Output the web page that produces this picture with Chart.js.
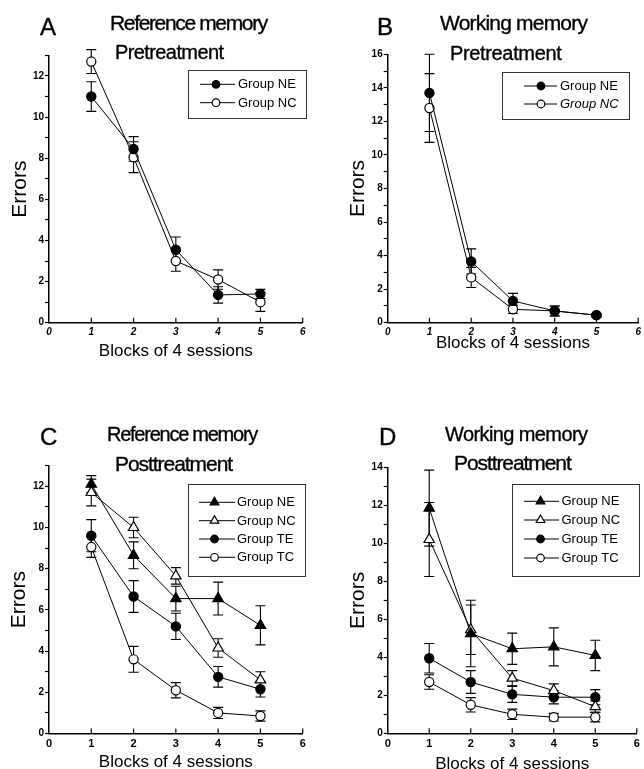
<!DOCTYPE html>
<html>
<head>
<meta charset="utf-8">
<script src="https://cdn.jsdelivr.net/npm/chart.js@4.4.1/dist/chart.umd.min.js"></script>
<style>
  html, body { margin: 0; padding: 0; background: #fff; overflow: hidden; }
  #page { position: relative; width: 644px; height: 769px; overflow: hidden; background: #fff; }
  canvas { position: absolute; }
  .t { position: absolute; font-family: 'Liberation Sans', Arial, sans-serif; line-height: 1; white-space: nowrap; color: #000; -webkit-text-stroke: 0.35px #000; }
</style>
</head>
<body>
<div id="page">
  <canvas id="chartA" width="322" height="384" style="left:0;top:0"></canvas>
  <canvas id="chartB" width="322" height="384" style="left:322px;top:0"></canvas>
  <canvas id="chartC" width="322" height="400" style="left:0;top:384px"></canvas>
  <canvas id="chartD" width="322" height="400" style="left:322px;top:384px"></canvas>

  <div class="t" style="left:40px;top:14.7px;font-size:24px">A</div>
  <div class="t" style="left:110px;top:12.2px;font-size:21px;letter-spacing:-1.35px">Reference memory</div>
  <div class="t" style="left:115px;top:42.4px;font-size:20px;letter-spacing:-0.6px">Pretreatment</div>

  <div class="t" style="left:377px;top:14.7px;font-size:24px">B</div>
  <div class="t" style="left:440px;top:12.2px;font-size:21px;letter-spacing:-0.8px">Working memory</div>
  <div class="t" style="left:450px;top:43px;font-size:20px;letter-spacing:-0.35px">Pretreatment</div>

  <div class="t" style="left:40px;top:425.4px;font-size:24px">C</div>
  <div class="t" style="left:107px;top:424.4px;font-size:20px;letter-spacing:-1.25px">Reference memory</div>
  <div class="t" style="left:115px;top:452.9px;font-size:21px;letter-spacing:-1.05px">Posttreatment</div>

  <div class="t" style="left:379px;top:425.4px;font-size:24px">D</div>
  <div class="t" style="left:445px;top:424.4px;font-size:20px;letter-spacing:-0.6px">Working memory</div>
  <div class="t" style="left:454px;top:452.2px;font-size:21px;letter-spacing:-1.08px">Posttreatment</div>
</div>

<script>
const FONT = "'Liberation Sans', Arial, sans-serif";

// x positions: blocks of 4 sessions
const blocks = [1, 2, 3, 4, 5];
const xTicks = [0, 1, 2, 3, 4, 5, 6];

// A: reference memory, pretreatment (mean errors and SEM)
const refPreNE = [11.0, 8.45, 3.55, 1.35, 1.4];
const refPreNEse = [0.72, 0.6, 0.62, 0.4, 0.22];
const refPreNC = [12.7, 8.05, 3.0, 2.1, 1.0];
const refPreNCse = [0.58, 0.75, 0.5, 0.47, 0.45];

// B: working memory, pretreatment
const workPreNE = [13.7, 3.65, 1.3, 0.7, 0.45];
const workPreNEse = [2.3, 0.75, 0.45, 0.3, 0.1];
const workPreNC = [12.8, 2.7, 0.8, 0.7, 0.45];
const workPreNCse = [2.05, 0.6, 0.25, 0.3, 0.1];

// C: reference memory, posttreatment
const refPostNE = [12.1, 8.65, 6.55, 6.55, 5.25];
const refPostNEse = [0.42, 0.65, 0.6, 0.8, 0.95];
const refPostNC = [11.7, 10.0, 7.65, 4.15, 2.6];
const refPostNCse = [0.65, 0.5, 0.4, 0.45, 0.4];
const refPostTE = [9.6, 6.65, 5.2, 2.75, 2.15];
const refPostTEse = [0.78, 0.77, 0.64, 0.5, 0.38];
const refPostTC = [9.05, 3.6, 2.1, 1.0, 0.85];
const refPostTCse = [0.5, 0.63, 0.37, 0.27, 0.25];

// D: working memory, posttreatment
const workPostNE = [11.85, 5.25, 4.45, 4.55, 4.1];
const workPostNEse = [2.0, 1.75, 0.82, 1.0, 0.8];
const workPostNC = [10.2, 5.45, 2.9, 2.25, 1.4];
const workPostNCse = [1.95, 1.3, 0.4, 0.35, 0.3];
const workPostTE = [3.95, 2.7, 2.05, 1.9, 1.9];
const workPostTEse = [0.78, 0.6, 0.42, 0.35, 0.4];
const workPostTC = [2.7, 1.5, 1.0, 0.85, 0.85];
const workPostTCse = [0.38, 0.38, 0.27, 0.2, 0.25];

function series(label, values, errs, shape, filled) {
  return {
    label: label,
    data: blocks.map((b, i) => ({ x: b, y: values[i] })),
    errs: errs,
    borderColor: '#000',
    borderWidth: 1,
    pointStyle: shape,
    pointRadius: shape === 'triangle' ? 6 : 4.6,
    pointBackgroundColor: filled ? '#000' : '#fff',
    pointBorderColor: '#000',
    pointBorderWidth: 1.2,
    fill: false,
    tension: 0,
    clip: false
  };
}

// vertical SEM bars with caps (under the markers) + inward x ticks
const errorBars = {
  id: 'errorBars',
  beforeDatasetsDraw(chart) {
    const ctx = chart.ctx;
    const xs = chart.scales.x, ys = chart.scales.y;
    ctx.save();
    ctx.strokeStyle = '#000';
    ctx.lineWidth = 1.2;
    ctx.beginPath();
    xTicks.forEach(v => {
      const x = xs.getPixelForValue(v);
      if (v > 0) {
        ctx.moveTo(x, chart.chartArea.bottom);
        ctx.lineTo(x, chart.chartArea.bottom - 5);
      }
    });
    ctx.stroke();
    ctx.lineWidth = 1.1;
    chart.data.datasets.forEach((ds, di) => {
      const meta = chart.getDatasetMeta(di);
      meta.data.forEach((pt, i) => {
        const v = ds.data[i].y, e = ds.errs[i];
        const y1 = ys.getPixelForValue(v - e);
        const y2 = ys.getPixelForValue(v + e);
        ctx.beginPath();
        ctx.moveTo(pt.x, y1); ctx.lineTo(pt.x, y2);
        ctx.moveTo(pt.x - 5, y1); ctx.lineTo(pt.x + 5, y1);
        ctx.moveTo(pt.x - 5, y2); ctx.lineTo(pt.x + 5, y2);
        ctx.stroke();
      });
    });
    ctx.restore();
  }
};

function marker(ctx, shape, filled, x, y) {
  ctx.beginPath();
  if (shape === 'triangle') {
    const r = 5;
    ctx.moveTo(x, y - r);
    ctx.lineTo(x + r * 0.866, y + r * 0.5);
    ctx.lineTo(x - r * 0.866, y + r * 0.5);
    ctx.closePath();
  } else {
    ctx.arc(x, y, 3.8, 0, Math.PI * 2);
  }
  ctx.fillStyle = filled ? '#000' : '#fff';
  ctx.fill();
  ctx.lineWidth = 1.2;
  ctx.strokeStyle = '#000';
  ctx.stroke();
}

// boxed legend "—●— Group NE"
const boxLegend = {
  id: 'boxLegend',
  afterDatasetsDraw(chart, args, o) {
    const ctx = chart.ctx;
    ctx.save();
    ctx.fillStyle = '#fff';
    ctx.fillRect(o.x, o.y, o.w, o.h);
    ctx.strokeStyle = '#333';
    ctx.lineWidth = 1;
    ctx.strokeRect(o.x + 0.5, o.y + 0.5, o.w, o.h);
    chart.data.datasets.forEach((ds, i) => {
      const cy = o.rows[i];
      ctx.strokeStyle = '#000';
      ctx.lineWidth = 1;
      ctx.beginPath();
      ctx.moveTo(o.lineX0, cy); ctx.lineTo(o.lineX1, cy);
      ctx.stroke();
      marker(ctx, ds.pointStyle, ds.pointBackgroundColor === '#000', o.markX, cy);
      ctx.fillStyle = '#000';
      ctx.font = (o.italicRows && o.italicRows.includes(i) ? 'italic ' : '') + '13px ' + FONT;
      ctx.textBaseline = 'middle';
      ctx.fillText(ds.label, o.textX, cy + 0.5);
    });
    ctx.restore();
  }
};

function makePanel(id, datasets, p) {
  const axisBorder = { color: '#000', width: 1.5 };
  new Chart(document.getElementById(id), {
    type: 'line',
    data: { datasets: datasets },
    options: {
      responsive: false,
      animation: false,
      events: [],
      layout: { padding: { left: 0, right: p.padRight, top: p.padTop, bottom: 0 } },
      plugins: {
        legend: { display: false },
        tooltip: { enabled: false },
        boxLegend: p.legend
      },
      scales: {
        x: {
          type: 'linear',
          min: 0,
          max: 6,
          afterBuildTicks: s => { s.ticks = xTicks.map(v => ({ value: v })); },
          afterFit: s => {
            s.height = p.xHeight;
            s.paddingLeft = s.paddingRight = s.paddingTop = s.paddingBottom = 0;
          },
          ticks: {
            autoSkip: false,
            maxRotation: 0,
            color: '#000',
            padding: 4,
            font: { family: FONT, size: p.xTickSize, weight: 'bold', style: p.xTickItalic ? 'italic' : 'normal' }
          },
          grid: { drawOnChartArea: false, drawTicks: false },
          border: axisBorder,
          title: {
            display: true,
            text: 'Blocks of 4 sessions',
            color: '#000',
            font: { family: FONT, size: 17 },
            padding: { top: 0, bottom: p.xTitlePad }
          }
        },
        y: {
          min: 0,
          max: p.yMax,
          afterFit: s => {
            s.width = p.yWidth;
            s.paddingLeft = s.paddingRight = s.paddingTop = s.paddingBottom = 0;
          },
          ticks: {
            stepSize: 1,
            autoSkip: false,
            color: '#000',
            padding: 1,
            font: { family: FONT, size: 10, weight: 'bold' },
            callback: v => (v % 2 === 0 ? v : '')
          },
          grid: { drawOnChartArea: false, tickLength: 4, tickColor: '#000', tickWidth: 1.2 },
          border: axisBorder,
          title: {
            display: true,
            text: 'Errors',
            color: '#000',
            font: { family: FONT, size: 21 },
            padding: { top: p.yTitlePad, bottom: 0 }
          }
        }
      }
    },
    plugins: [errorBars, boxLegend]
  });
}

makePanel('chartA', [
  series('Group NE', refPreNE, refPreNEse, 'circle', true),
  series('Group NC', refPreNC, refPreNCse, 'circle', false)
], {
  padTop: 55.4, padRight: 19.3, yWidth: 49, xHeight: 61.3, yMax: 13,
  yTitlePad: 7.4, xTitlePad: 22, xTickSize: 10, xTickItalic: true,
  legend: { x: 188, y: 70, w: 118, h: 48, rows: [84.3, 102.7], lineX0: 200, lineX1: 235, markX: 216, textX: 238 }
});

makePanel('chartB', [
  series('Group NE', workPreNE, workPreNEse, 'circle', true),
  series('Group NC', workPreNC, workPreNCse, 'circle', false)
], {
  padTop: 54.3, padRight: 3, yWidth: 65.7, xHeight: 61.3, yMax: 16,
  yTitlePad: 23.4, xTitlePad: 30.8, xTickSize: 10, xTickItalic: true,
  legend: { x: 180, y: 72, w: 127, h: 47, rows: [86, 104], lineX0: 202, lineX1: 235, markX: 219, textX: 238, italicRows: [1] }
});

makePanel('chartC', [
  series('Group NE', refPostNE, refPostNEse, 'triangle', true),
  series('Group NC', refPostNC, refPostNCse, 'triangle', false),
  series('Group TE', refPostTE, refPostTEse, 'circle', true),
  series('Group TC', refPostTC, refPostTCse, 'circle', false)
], {
  padTop: 81.7, padRight: 19.3, yWidth: 49, xHeight: 50.5, yMax: 13,
  yTitlePad: 7.1, xTitlePad: 11.5, xTickSize: 11, xTickItalic: false,
  legend: { x: 188, y: 100, w: 117, h: 92, rows: [118.3, 136.7, 155, 173.3], lineX0: 199, lineX1: 235, markX: 214.5, textX: 237 }
});

makePanel('chartD', [
  series('Group NE', workPostNE, workPostNEse, 'triangle', true),
  series('Group NC', workPostNC, workPostNCse, 'triangle', false),
  series('Group TE', workPostTE, workPostTEse, 'circle', true),
  series('Group TC', workPostTC, workPostTCse, 'circle', false)
], {
  padTop: 83.3, padRight: 3, yWidth: 65.7, xHeight: 50.7, yMax: 14,
  yTitlePad: 23.4, xTitlePad: 9.8, xTickSize: 11, xTickItalic: false,
  legend: { x: 190, y: 100, w: 127, h: 92, rows: [117.3, 136, 155, 174], lineX0: 202, lineX1: 237, markX: 218.5, textX: 239.5 }
});
</script>
</body>
</html>
